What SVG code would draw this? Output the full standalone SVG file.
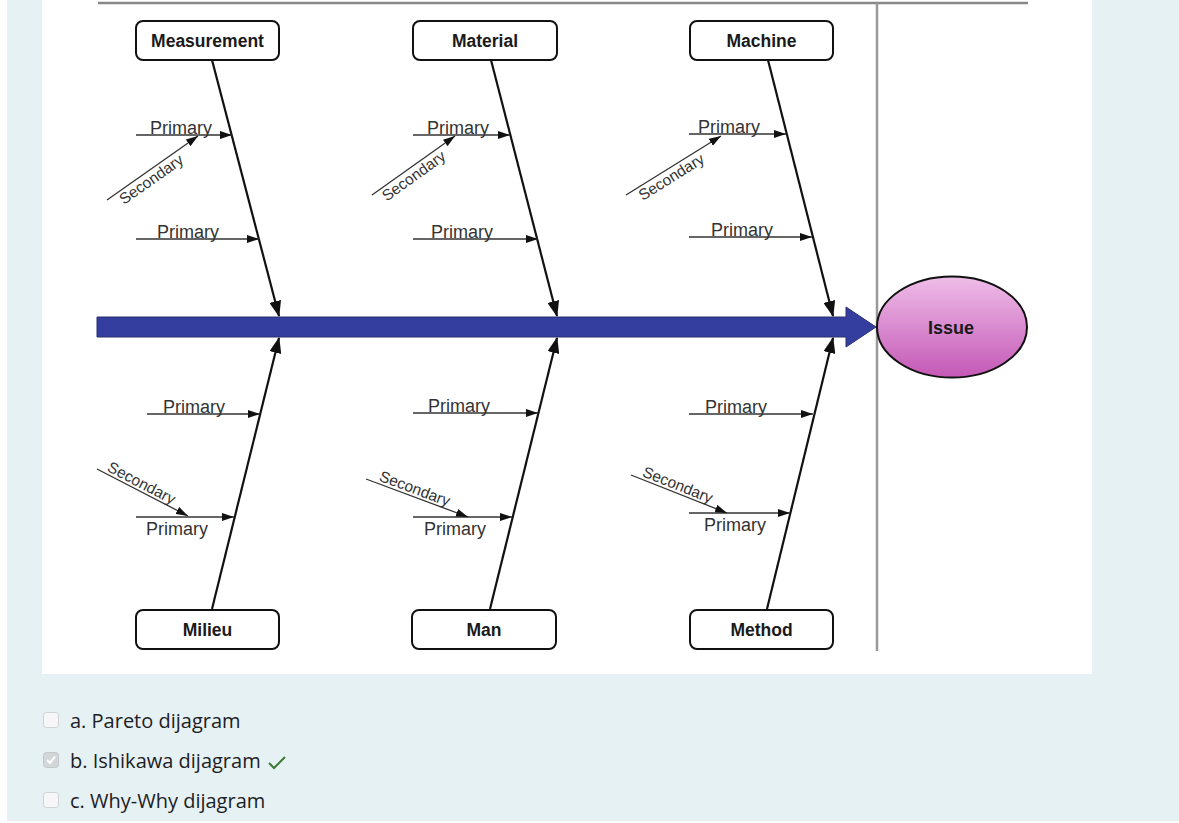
<svg xmlns="http://www.w3.org/2000/svg" width="1179" height="823" viewBox="0 0 1179 823">
<style>
.bg{fill:#e6f1f4}
.box{fill:#fff;stroke:#111;stroke-width:2}
.blabel{font-family:"Liberation Sans",Arial,sans-serif;font-weight:bold;font-size:17.5px;fill:#1a1a1a;text-anchor:middle}
.bone{stroke:#111;stroke-width:2.2;fill:none}
.prim{stroke:#333;stroke-width:1.3;fill:none}
.lbl{font-family:"Liberation Sans",Arial,sans-serif;font-size:18px;fill:#333}
.sec{font-family:"Liberation Sans",Arial,sans-serif;font-size:15.5px;fill:#333}
.opt{font-family:"Open Sans",sans-serif;font-size:20px;fill:#1d2125}
.cb{fill:#f7f7f7;stroke:#cfd3d6;stroke-width:1}
</style>
<defs>
<marker id="big" markerUnits="userSpaceOnUse" markerWidth="16" markerHeight="12" refX="15" refY="6" orient="auto"><path d="M0,0 L16,6 L0,12 Z" fill="#111"/></marker>
<marker id="sm" markerUnits="userSpaceOnUse" markerWidth="12" markerHeight="8" refX="12" refY="4" orient="auto"><path d="M0,0 L12,4 L0,8 Z" fill="#111"/></marker>
<linearGradient id="pink" x1="0" y1="0" x2="0" y2="1"><stop offset="0" stop-color="#efbde8"/><stop offset="1" stop-color="#c458b6"/></linearGradient>
</defs>
<rect x="0" y="0" width="1179" height="823" fill="#fff"/>
<rect class="bg" x="7" y="0" width="1172" height="821"/>
<rect x="42" y="0" width="1050" height="674" fill="#fff"/>
<g id="frame">
<line x1="98" y1="3" x2="1028" y2="3" stroke="#888" stroke-width="2.5"/>
<line x1="877" y1="3" x2="877" y2="651" stroke="#999" stroke-width="2.5"/>
</g>
<g id="spine">
<path d="M97,317 L846,317 L846,307 L876,327 L846,347 L846,337 L97,337 Z" fill="#343e9e" stroke="#2a2f6e" stroke-width="1"/>
</g>
<g id="connectors">
<line class="bone" x1="212" y1="60" x2="279" y2="316" marker-end="url(#big)"/>
<line class="bone" x1="491" y1="60" x2="557" y2="316" marker-end="url(#big)"/>
<line class="bone" x1="768" y1="60" x2="833" y2="316" marker-end="url(#big)"/>
<line class="bone" x1="212" y1="609" x2="279" y2="338" marker-end="url(#big)"/>
<line class="bone" x1="490" y1="609" x2="557" y2="338" marker-end="url(#big)"/>
<line class="bone" x1="767" y1="609" x2="833" y2="338" marker-end="url(#big)"/>
<line class="prim" x1="136" y1="135" x2="232" y2="135" marker-end="url(#sm)"/>
<line class="prim" x1="136" y1="239" x2="259" y2="239" marker-end="url(#sm)"/>
<line class="prim" x1="107" y1="200" x2="198" y2="136" marker-end="url(#sm)"/>
<line class="prim" x1="413" y1="135" x2="510" y2="135" marker-end="url(#sm)"/>
<line class="prim" x1="413" y1="239" x2="538" y2="239" marker-end="url(#sm)"/>
<line class="prim" x1="372" y1="195" x2="455" y2="136" marker-end="url(#sm)"/>
<line class="prim" x1="689" y1="134" x2="786" y2="134" marker-end="url(#sm)"/>
<line class="prim" x1="689" y1="237" x2="812" y2="237" marker-end="url(#sm)"/>
<line class="prim" x1="626" y1="195" x2="721" y2="136" marker-end="url(#sm)"/>
<line class="prim" x1="147" y1="414" x2="260" y2="414" marker-end="url(#sm)"/>
<line class="prim" x1="136" y1="517" x2="234" y2="517" marker-end="url(#sm)"/>
<line class="prim" x1="97" y1="469" x2="188" y2="516" marker-end="url(#sm)"/>
<line class="prim" x1="413" y1="413" x2="538" y2="413" marker-end="url(#sm)"/>
<line class="prim" x1="413" y1="517" x2="512" y2="517" marker-end="url(#sm)"/>
<line class="prim" x1="366" y1="479" x2="468" y2="517" marker-end="url(#sm)"/>
<line class="prim" x1="689" y1="414" x2="813" y2="414" marker-end="url(#sm)"/>
<line class="prim" x1="689" y1="513" x2="790" y2="513" marker-end="url(#sm)"/>
<line class="prim" x1="631" y1="475" x2="727" y2="513" marker-end="url(#sm)"/>
</g>
<g id="labels">
<text class="lbl" x="150" y="134">Primary</text>
<text class="lbl" x="157" y="238">Primary</text>
<text class="sec" transform="translate(107,200) rotate(-35.3)" x="11" y="14">Secondary</text>
<text class="lbl" x="427" y="134">Primary</text>
<text class="lbl" x="431" y="238">Primary</text>
<text class="sec" transform="translate(372,195) rotate(-35.6)" x="8" y="14">Secondary</text>
<text class="lbl" x="698" y="133">Primary</text>
<text class="lbl" x="711" y="236">Primary</text>
<text class="sec" transform="translate(626,195) rotate(-32)" x="11" y="14">Secondary</text>
<text class="lbl" x="163" y="413">Primary</text>
<text class="lbl" x="146" y="535">Primary</text>
<text class="sec" transform="translate(97,469) rotate(27.6)" x="9" y="-3">Secondary</text>
<text class="lbl" x="428" y="412">Primary</text>
<text class="lbl" x="424" y="535">Primary</text>
<text class="sec" transform="translate(366,479) rotate(20.6)" x="12" y="-3">Secondary</text>
<text class="lbl" x="705" y="413">Primary</text>
<text class="lbl" x="704" y="531">Primary</text>
<text class="sec" transform="translate(631,475) rotate(21.8)" x="10" y="-3">Secondary</text>
</g>
<g id="measurement"><rect class="box" x="136" y="21" width="143" height="39" rx="7"/><text class="blabel" x="207.5" y="47">Measurement</text></g>
<g id="material"><rect class="box" x="413" y="21" width="144" height="39" rx="7"/><text class="blabel" x="485" y="47">Material</text></g>
<g id="machine"><rect class="box" x="690" y="21" width="143" height="39" rx="7"/><text class="blabel" x="761.5" y="47">Machine</text></g>
<g id="milieu"><rect class="box" x="136" y="610" width="143" height="39" rx="7"/><text class="blabel" x="207.5" y="636">Milieu</text></g>
<g id="man"><rect class="box" x="412" y="610" width="144" height="39" rx="7"/><text class="blabel" x="484" y="636">Man</text></g>
<g id="method"><rect class="box" x="690" y="610" width="143" height="39" rx="7"/><text class="blabel" x="761.5" y="636">Method</text></g>
<g id="issue"><ellipse cx="952" cy="327" rx="75" ry="50.5" fill="url(#pink)" stroke="#111" stroke-width="2"/><text class="blabel" x="951" y="334" style="font-size:18px">Issue</text></g>
<g id="options">
<rect class="cb" x="43.5" y="712.5" width="15" height="15" rx="3"/>
<text class="opt" x="70" y="728">a. Pareto dijagram</text>
<rect x="43.5" y="752.5" width="15" height="15" rx="3" fill="#d4d7da" stroke="#c4c8cb"/>
<path d="M47,760 L50,763 L55,756.5" stroke="#fff" stroke-width="2" fill="none"/>
<text class="opt" x="70" y="768">b. Ishikawa dijagram</text>
<path d="M269,763 L274,768 L285,757" stroke="#3d7a31" stroke-width="2" fill="none"/>
<rect class="cb" x="43.5" y="792.5" width="15" height="15" rx="3"/>
<text class="opt" x="70" y="808">c. Why-Why dijagram</text>
</g>
</svg>
